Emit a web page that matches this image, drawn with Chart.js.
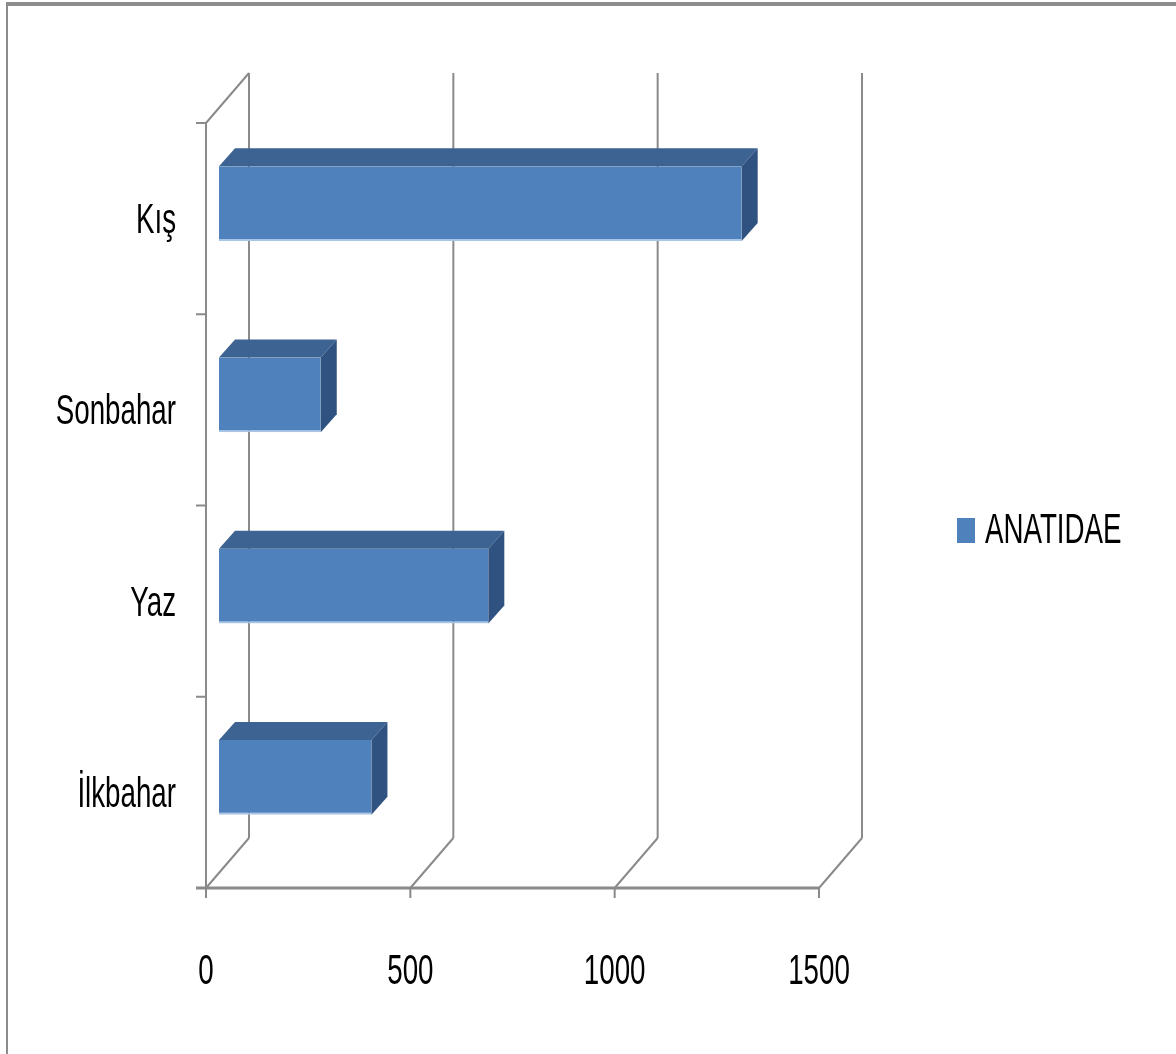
<!DOCTYPE html>
<html>
<head>
<meta charset="utf-8">
<title>ANATIDAE</title>
<script src="https://cdn.jsdelivr.net/npm/chart.js@4/dist/chart.umd.min.js"></script>
<style>
  html, body { margin: 0; padding: 0; background: #fff; }
  canvas { display: block; }
</style>
</head>
<body>
<canvas id="chart" width="1176" height="1054"></canvas>
<script>
// seasons bottom to top, the y axis is reversed below
const seasons = ['İlkbahar', 'Yaz', 'Sonbahar', 'Kış'];
const anatidae = [373, 659, 249, 1279];
const valueTicks = [0, 500, 1000, 1500];
const seriesName = 'ANATIDAE';

// offsets of the floor edge / back wall from the plane the bars stand in
const FRONT = { dx: -13, dy: 15 };
const BACK = { dx: 30, dy: -35 };
const BAR_DEPTH = { dx: 16, dy: -18 };

const GRID = '#8a8a8a';
const BAR_FRONT = '#4f81bd';
const BAR_TOP = '#3c6391';
const BAR_SIDE = '#2f5281';
const TEXT_FONT = '42px "Liberation Sans", sans-serif';
const TEXT_SQUEEZE = 0.66;

function squeezedText(ctx, text, x, y, align) {
    ctx.save();
    ctx.translate(x, y);
    ctx.scale(TEXT_SQUEEZE, 1);
    ctx.font = TEXT_FONT;
    ctx.fillStyle = '#000';
    ctx.textAlign = align;
    ctx.textBaseline = 'middle';
    ctx.fillText(text, 0, 0);
    ctx.restore();
}

function line(ctx, x1, y1, x2, y2) {
    ctx.beginPath();
    ctx.moveTo(x1, y1);
    ctx.lineTo(x2, y2);
    ctx.stroke();
}

function poly(ctx, pts, color) {
    ctx.beginPath();
    ctx.moveTo(pts[0][0], pts[0][1]);
    pts.slice(1).forEach(p => ctx.lineTo(p[0], p[1]));
    ctx.closePath();
    ctx.fillStyle = color;
    ctx.fill();
}

// walls, floor, ticks and labels around the bars
const frame3d = {
    id: 'frame3d',
    beforeDatasetsDraw(chart) {
        const ctx = chart.ctx;
        const xs = chart.scales.x;
        const ys = chart.scales.y;
        const area = chart.chartArea;

        ctx.save();
        // outer border
        ctx.fillStyle = '#8c8c8c';
        ctx.fillRect(6, 2, chart.width, 4);
        ctx.fillRect(6, 2, 2, chart.height);

        ctx.strokeStyle = GRID;
        ctx.lineWidth = 2;

        valueTicks.forEach(v => {
            const x = xs.getPixelForValue(v);
            // back wall gridline
            line(ctx, x + BACK.dx, area.top + BACK.dy, x + BACK.dx, area.bottom + BACK.dy);
            // floor slant
            line(ctx, x + BACK.dx, area.bottom + BACK.dy, x + FRONT.dx, area.bottom + FRONT.dy);
        });

        // side wall
        const x0 = xs.getPixelForValue(0);
        line(ctx, x0 + FRONT.dx, area.top + FRONT.dy, x0 + FRONT.dx, area.bottom + FRONT.dy);
        line(ctx, x0 + FRONT.dx, area.top + FRONT.dy, x0 + BACK.dx, area.top + BACK.dy);

        const band = Math.abs(ys.getPixelForValue(1) - ys.getPixelForValue(0));
        for (let i = 0; i <= seasons.length; i++) {
            const yb = area.top + i * band + FRONT.dy;
            line(ctx, x0 + FRONT.dx - 10, yb, x0 + FRONT.dx, yb);
        }

        // front floor edge
        const xEnd = xs.getPixelForValue(valueTicks[valueTicks.length - 1]);
        ctx.lineWidth = 3;
        line(ctx, x0 + FRONT.dx - 10, area.bottom + FRONT.dy, xEnd + FRONT.dx, area.bottom + FRONT.dy);
        ctx.lineWidth = 2;
        valueTicks.forEach(v => {
            const x = xs.getPixelForValue(v) + FRONT.dx;
            line(ctx, x, area.bottom + FRONT.dy, x, area.bottom + FRONT.dy + 10);
            squeezedText(ctx, String(v), x, area.bottom + FRONT.dy + 84, 'center');
        });

        seasons.forEach((s, i) => {
            const y = ys.getPixelForValue(i) + FRONT.dy + 3;
            squeezedText(ctx, s, x0 + FRONT.dx - 30, y, 'right');
        });

        // legend
        ctx.fillStyle = BAR_FRONT;
        ctx.fillRect(957, 518, 18, 25);
        squeezedText(ctx, seriesName, 985, 531, 'left');
        ctx.restore();
    },
    afterDatasetsDraw(chart) {
        const ctx = chart.ctx;
        const meta = chart.getDatasetMeta(0);
        ctx.save();
        meta.data.forEach(bar => {
            const p = bar.getProps(['x', 'y', 'base', 'height'], true);
            const top = p.y - p.height / 2;
            const bottom = p.y + p.height / 2;
            const left = Math.min(p.base, p.x);
            const right = Math.max(p.base, p.x);
            const dx = BAR_DEPTH.dx, dy = BAR_DEPTH.dy;
            poly(ctx, [[left, top], [right, top], [right + dx, top + dy], [left + dx, top + dy]], BAR_TOP);
            poly(ctx, [[right, top], [right + dx, top + dy], [right + dx, bottom + dy], [right, bottom]], BAR_SIDE);
        });
        ctx.restore();
    }
};

new Chart(document.getElementById('chart'), {
    type: 'bar',
    data: {
        labels: seasons,
        datasets: [{
            label: seriesName,
            data: anatidae,
            backgroundColor: BAR_FRONT,
            borderColor: '#a9c5e8',
            borderWidth: { top: 0, left: 0, right: 0, bottom: 2 },
            borderSkipped: false,
            barPercentage: 0.39,
            categoryPercentage: 1
        }]
    },
    options: {
        indexAxis: 'y',
        responsive: false,
        animation: false,
        events: [],
        layout: {
            padding: { left: 219, right: 344, top: 108, bottom: 181 }
        },
        plugins: {
            legend: { display: false },
            tooltip: { enabled: false }
        },
        scales: {
            x: { min: 0, max: 1500, display: false },
            y: { reverse: true, display: false }
        }
    },
    plugins: [frame3d]
});
</script>
</body>
</html>
